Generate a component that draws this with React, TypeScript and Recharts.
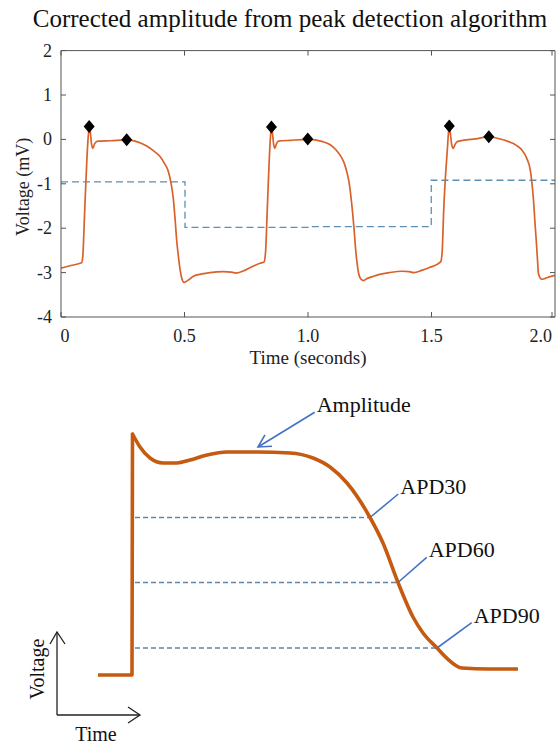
import { ComposedChart, Line, XAxis, YAxis, ReferenceLine } from 'recharts'

const SERIF = '"Liberation Serif", "Times New Roman", serif'

// ---- top panel: recorded trace ----
const TRACE_T = [
  0, 0.04, 0.083, 0.088, 0.096, 0.104, 0.11, 0.115, 0.119, 0.124, 0.129, 0.136, 0.15, 0.2, 0.266,
  0.3, 0.347, 0.375, 0.4, 0.42, 0.434, 0.446, 0.455, 0.462, 0.468, 0.475, 0.482, 0.49, 0.498,
  0.515, 0.536, 0.57, 0.603, 0.657, 0.69, 0.711, 0.74, 0.765, 0.806, 0.822,
  0.828, 0.835, 0.842, 0.848, 0.852, 0.857, 0.861, 0.866, 0.872, 0.88, 0.93, 0.999,
  1.06, 1.09, 1.114, 1.135, 1.147, 1.158, 1.167, 1.175, 1.181, 1.187, 1.192, 1.199, 1.205,
  1.213, 1.224, 1.24, 1.261, 1.29, 1.329, 1.382, 1.41, 1.429, 1.46, 1.49, 1.537,
  1.543, 1.55, 1.557, 1.564, 1.568, 1.572, 1.577, 1.582, 1.588, 1.595, 1.604, 1.64, 1.678, 1.732,
  1.77, 1.812, 1.845, 1.866, 1.885, 1.9, 1.907, 1.913, 1.918, 1.924, 1.929, 1.933, 1.94, 1.947,
  1.96, 1.98, 2.0,
]
const TRACE_V = [
  -2.9, -2.84, -2.78, -2.65, -1.6, -0.55, 0.05, 0.29, 0.15, -0.12, -0.2, -0.1, -0.04, -0.03, -0.01,
  -0.04, -0.15, -0.26, -0.38, -0.55, -0.71, -1.0, -1.35, -1.8, -2.25, -2.62, -2.93, -3.15, -3.22,
  -3.17, -3.08, -3.03, -3.0, -2.98, -2.99, -3.01, -2.96, -2.89, -2.79, -2.76,
  -2.55, -1.6, -0.6, 0.05, 0.28, 0.1, -0.12, -0.2, -0.1, -0.04, -0.02, 0.0,
  -0.05, -0.12, -0.24, -0.4, -0.54, -0.75, -0.99, -1.35, -1.67, -2.05, -2.42, -2.8, -3.02,
  -3.14, -3.18, -3.13, -3.09, -3.04, -3.0, -2.97, -2.98, -3.0, -2.95, -2.89, -2.76,
  -2.55, -1.52, -0.8, -0.24, 0.1, 0.3, 0.1, -0.12, -0.2, -0.12, -0.05, -0.01, 0.01, 0.06,
  0.02, -0.05, -0.14, -0.24, -0.42, -0.69, -1.0, -1.37, -1.8, -2.27, -2.7, -3.02, -3.12, -3.15,
  -3.13, -3.09, -3.06,
]
const STIM_T = [0, 0.502, 1.0, 1.499, 2.0]
const STIM_V = [-0.955, -1.98, -1.965, -0.92, -0.92]
const PEAK_T = [0.114, 0.266, 0.852, 0.999, 1.572, 1.732]
const PEAK_V = [0.29, -0.01, 0.28, 0.01, 0.3, 0.06]
const X_TICKS = [0, 0.5, 1, 1.5, 2]
const X_TICK_LABELS = ['0', '0.5', '1.0', '1.5', '2.0']
const Y_TICKS = [-4, -3, -2, -1, 0, 1, 2]
const Y_TICK_LABELS = ['-4', '-3', '-2', '-1', '0', '1', '2']

// ---- bottom panel: schematic action potential (ms, mV) ----
const UP_T = [0, 34, 34.5]
const UP_V = [-85, -85, 35.5]
const AP_T = [34.5, 42, 52, 65, 79, 92, 109, 129, 159, 192, 215, 232, 249, 272, 285, 300, 315, 325, 339, 349, 364, 390, 419]
const AP_V = [35.5, 29, 23.5, 21, 21, 22.5, 25, 26.5, 26.5, 26, 23.5, 19, 11, -6.25, -19, -38.75, -56, -64, -71.5, -76.7, -81.5, -82, -82]
const APD_NAMES = ['APD30', 'APD60', 'APD90']
const APD_LEVEL = [-6.25, -38.75, -71.5]
const APD_CROSS_T = [272, 300, 339]
const APD_LABEL_T = [300.3, 328.7, 373.7]
const APD_LABEL_V = [5.5, -26.15, -58.85]
const DASH_START_T = 37
const AMP_TIP = { t: 160, v: 29 }
const AMP_LABEL = { t: 216.7, v: 46.35 }

const trace = TRACE_T.map((t, i) => ({ t, v: TRACE_V[i] }))
const stim = STIM_T.map((t, i) => ({ t, v: STIM_V[i] }))
const peaks = PEAK_T.map((t, i) => ({ t, v: PEAK_V[i] }))
const upstroke = UP_T.map((t, i) => ({ t, v: UP_V[i] }))
const repol = AP_T.map((t, i) => ({ t, v: AP_V[i] }))

const AXIS = '#555'
const TICK = 5

function BottomTick({ x, y, payload }: any) {
  const i = X_TICKS.indexOf(payload.value)
  const last = i === X_TICKS.length - 1
  return (
    <g>
      <line x1={x} y1={y} x2={x} y2={y - TICK} stroke={AXIS} />
      <text x={last ? x : i === 0 ? x + 4 : x} y={y + 25} textAnchor={last ? 'end' : 'middle'}
        fontFamily={SERIF} fontSize={18} fill="#222">{X_TICK_LABELS[i]}</text>
    </g>
  )
}

function TopTick({ x, y }: any) {
  return <line x1={x} y1={y} x2={x} y2={y + TICK} stroke={AXIS} />
}

function LeftTick({ x, y, payload }: any) {
  const i = Y_TICKS.indexOf(payload.value)
  return (
    <g>
      <line x1={x} y1={y} x2={x + TICK} y2={y} stroke={AXIS} />
      <text x={x - 9} y={y + 6} textAnchor="end" fontFamily={SERIF} fontSize={18} fill="#222">
        {Y_TICK_LABELS[i]}
      </text>
    </g>
  )
}

function RightTick({ x, y }: any) {
  return <line x1={x} y1={y} x2={x - TICK} y2={y} stroke={AXIS} />
}

function Diamond({ cx, cy, index }: any) {
  if (cx == null || cy == null) return <g key={index} />
  return (
    <polygon key={index} fill="#000"
      points={`${cx},${cy - 6.5} ${cx + 5.5},${cy} ${cx},${cy + 6.5} ${cx - 5.5},${cy}`} />
  )
}

function YLabel({ viewBox }: any) {
  const cx = viewBox.x + 29
  const cy = viewBox.y + viewBox.height / 2 + 3
  return (
    <text x={cx} y={cy} transform={`rotate(-90 ${cx} ${cy})`} textAnchor="middle"
      fontFamily={SERIF} fontSize={18} fill="#222">Voltage (mV)</text>
  )
}

// leader line with its label at the far end, optional arrowhead at the start
function Leader({ x1, y1, x2, y2, text, arrow }: any) {
  const dx = x2 - x1
  const dy = y2 - y1
  const len = Math.hypot(dx, dy) || 1
  const ux = dx / len
  const uy = dy / len
  const wing = (a: number) => {
    const c = Math.cos(a)
    const s = Math.sin(a)
    return `${x1 + 14 * (ux * c - uy * s)},${y1 + 14 * (ux * s + uy * c)}`
  }
  return (
    <g>
      <line x1={x1} y1={y1} x2={x2} y2={y2} stroke="#4472c4" strokeWidth={1.6} />
      {arrow && (
        <polyline points={`${wing(0.5)} ${x1},${y1} ${wing(-0.5)}`} fill="none" stroke="#4472c4" strokeWidth={1.6} />
      )}
      <text x={x2 + 2} y={y2} fontFamily={SERIF} fontSize={22} fill="#111">{text}</text>
    </g>
  )
}

export default function App() {
  return (
    <div style={{ position: 'absolute', left: 0, top: 0, width: 556, height: 745, background: '#fff', overflow: 'hidden' }}>
      <div style={{ position: 'absolute', left: 0, top: 0 }}>
        <ComposedChart width={556} height={372} margin={{ top: 49.6, right: 0, bottom: 0, left: 0 }}>
          <XAxis xAxisId="b" type="number" dataKey="t" domain={[0, 2]} ticks={X_TICKS} height={55}
            tickSize={0} tickMargin={0} tickLine={false} axisLine={{ stroke: AXIS }} tick={<BottomTick />}
            allowDataOverflow
            label={{ value: 'Time (seconds)', position: 'insideBottom', offset: 8, fontFamily: SERIF, fontSize: 19, fill: '#222' }} />
          <XAxis xAxisId="t" orientation="top" type="number" dataKey="t" domain={[0, 2]} ticks={X_TICKS} height={1}
            tickSize={0} tickMargin={0} tickLine={false} axisLine={{ stroke: AXIS }} tick={<TopTick />} allowDataOverflow />
          <YAxis yAxisId="l" type="number" domain={[-4, 2]} ticks={Y_TICKS} width={61}
            tickSize={0} tickMargin={0} tickLine={false} axisLine={{ stroke: AXIS }} tick={<LeftTick />}
            allowDataOverflow label={{ content: <YLabel /> }} />
          <YAxis yAxisId="r" orientation="right" type="number" domain={[-4, 2]} ticks={Y_TICKS} width={1}
            tickSize={0} tickMargin={0} tickLine={false} axisLine={{ stroke: AXIS }} tick={<RightTick />} allowDataOverflow />
          <Line xAxisId="b" yAxisId="l" data={stim} dataKey="v" type="stepAfter" stroke="#5b8fb3"
            strokeWidth={1.3} strokeDasharray="7 4" dot={false} activeDot={false} isAnimationActive={false} />
          <Line xAxisId="b" yAxisId="l" data={trace} dataKey="v" type="monotone" stroke="#d9622b"
            strokeWidth={1.7} dot={false} activeDot={false} isAnimationActive={false} />
          <Line xAxisId="t" yAxisId="r" data={peaks} dataKey="v" stroke="none"
            dot={(p: any) => <Diamond key={p.index} {...p} />} activeDot={false} isAnimationActive={false} />
        </ComposedChart>
      </div>

      <div style={{ position: 'absolute', left: 0, top: 380 }}>
        <ComposedChart width={556} height={365} margin={{ top: 25, right: 38, bottom: 40, left: 98 }}>
          <XAxis type="number" dataKey="t" domain={[0, 420]} hide allowDataOverflow />
          <YAxis type="number" domain={[-100, 50]} hide allowDataOverflow />
          {APD_NAMES.map((name, i) => (
            <ReferenceLine key={'dash' + name}
              segment={[{ x: DASH_START_T, y: APD_LEVEL[i] }, { x: APD_CROSS_T[i], y: APD_LEVEL[i] }]}
              stroke="#5b87ad" strokeWidth={1.5} strokeDasharray="5 3" />
          ))}
          {APD_NAMES.map((name, i) => (
            <ReferenceLine key={'lead' + name}
              segment={[{ x: APD_CROSS_T[i], y: APD_LEVEL[i] }, { x: APD_LABEL_T[i], y: APD_LABEL_V[i] }]}
              shape={(p: any) => <Leader {...p} text={name} />} />
          ))}
          <ReferenceLine
            segment={[{ x: AMP_TIP.t, y: AMP_TIP.v }, { x: AMP_LABEL.t, y: AMP_LABEL.v }]}
            shape={(p: any) => <Leader {...p} text="Amplitude" arrow />} />
          <Line data={upstroke} dataKey="v" type="linear" stroke="#c55a11" strokeWidth={3.6}
            strokeLinejoin="round" dot={false} activeDot={false} isAnimationActive={false} />
          <Line data={repol} dataKey="v" type="monotone" stroke="#c55a11" strokeWidth={3.6}
            strokeLinecap="round" dot={false} activeDot={false} isAnimationActive={false} />
        </ComposedChart>
      </div>

      <svg width={556} height={745} style={{ position: 'absolute', left: 0, top: 0, pointerEvents: 'none' }}>
        <text x={290} y={27} textAnchor="middle" fontFamily={SERIF} fontSize={25} fill="#111">
          Corrected amplitude from peak detection algorithm
        </text>
        <g stroke="#222" strokeWidth={1.3} fill="none">
          <line x1={57} y1={715} x2={57} y2={632} />
          <polyline points="50,644 57,632 65,644" />
          <line x1={57} y1={715} x2={140} y2={715} />
          <polyline points="128,707 140,715 128,723" />
        </g>
        <text x={44} y={669} transform="rotate(-90 44 669)" textAnchor="middle" fontFamily={SERIF} fontSize={20} fill="#111">
          Voltage
        </text>
        <text x={96} y={741} textAnchor="middle" fontFamily={SERIF} fontSize={20} fill="#111">Time</text>
      </svg>
    </div>
  )
}
